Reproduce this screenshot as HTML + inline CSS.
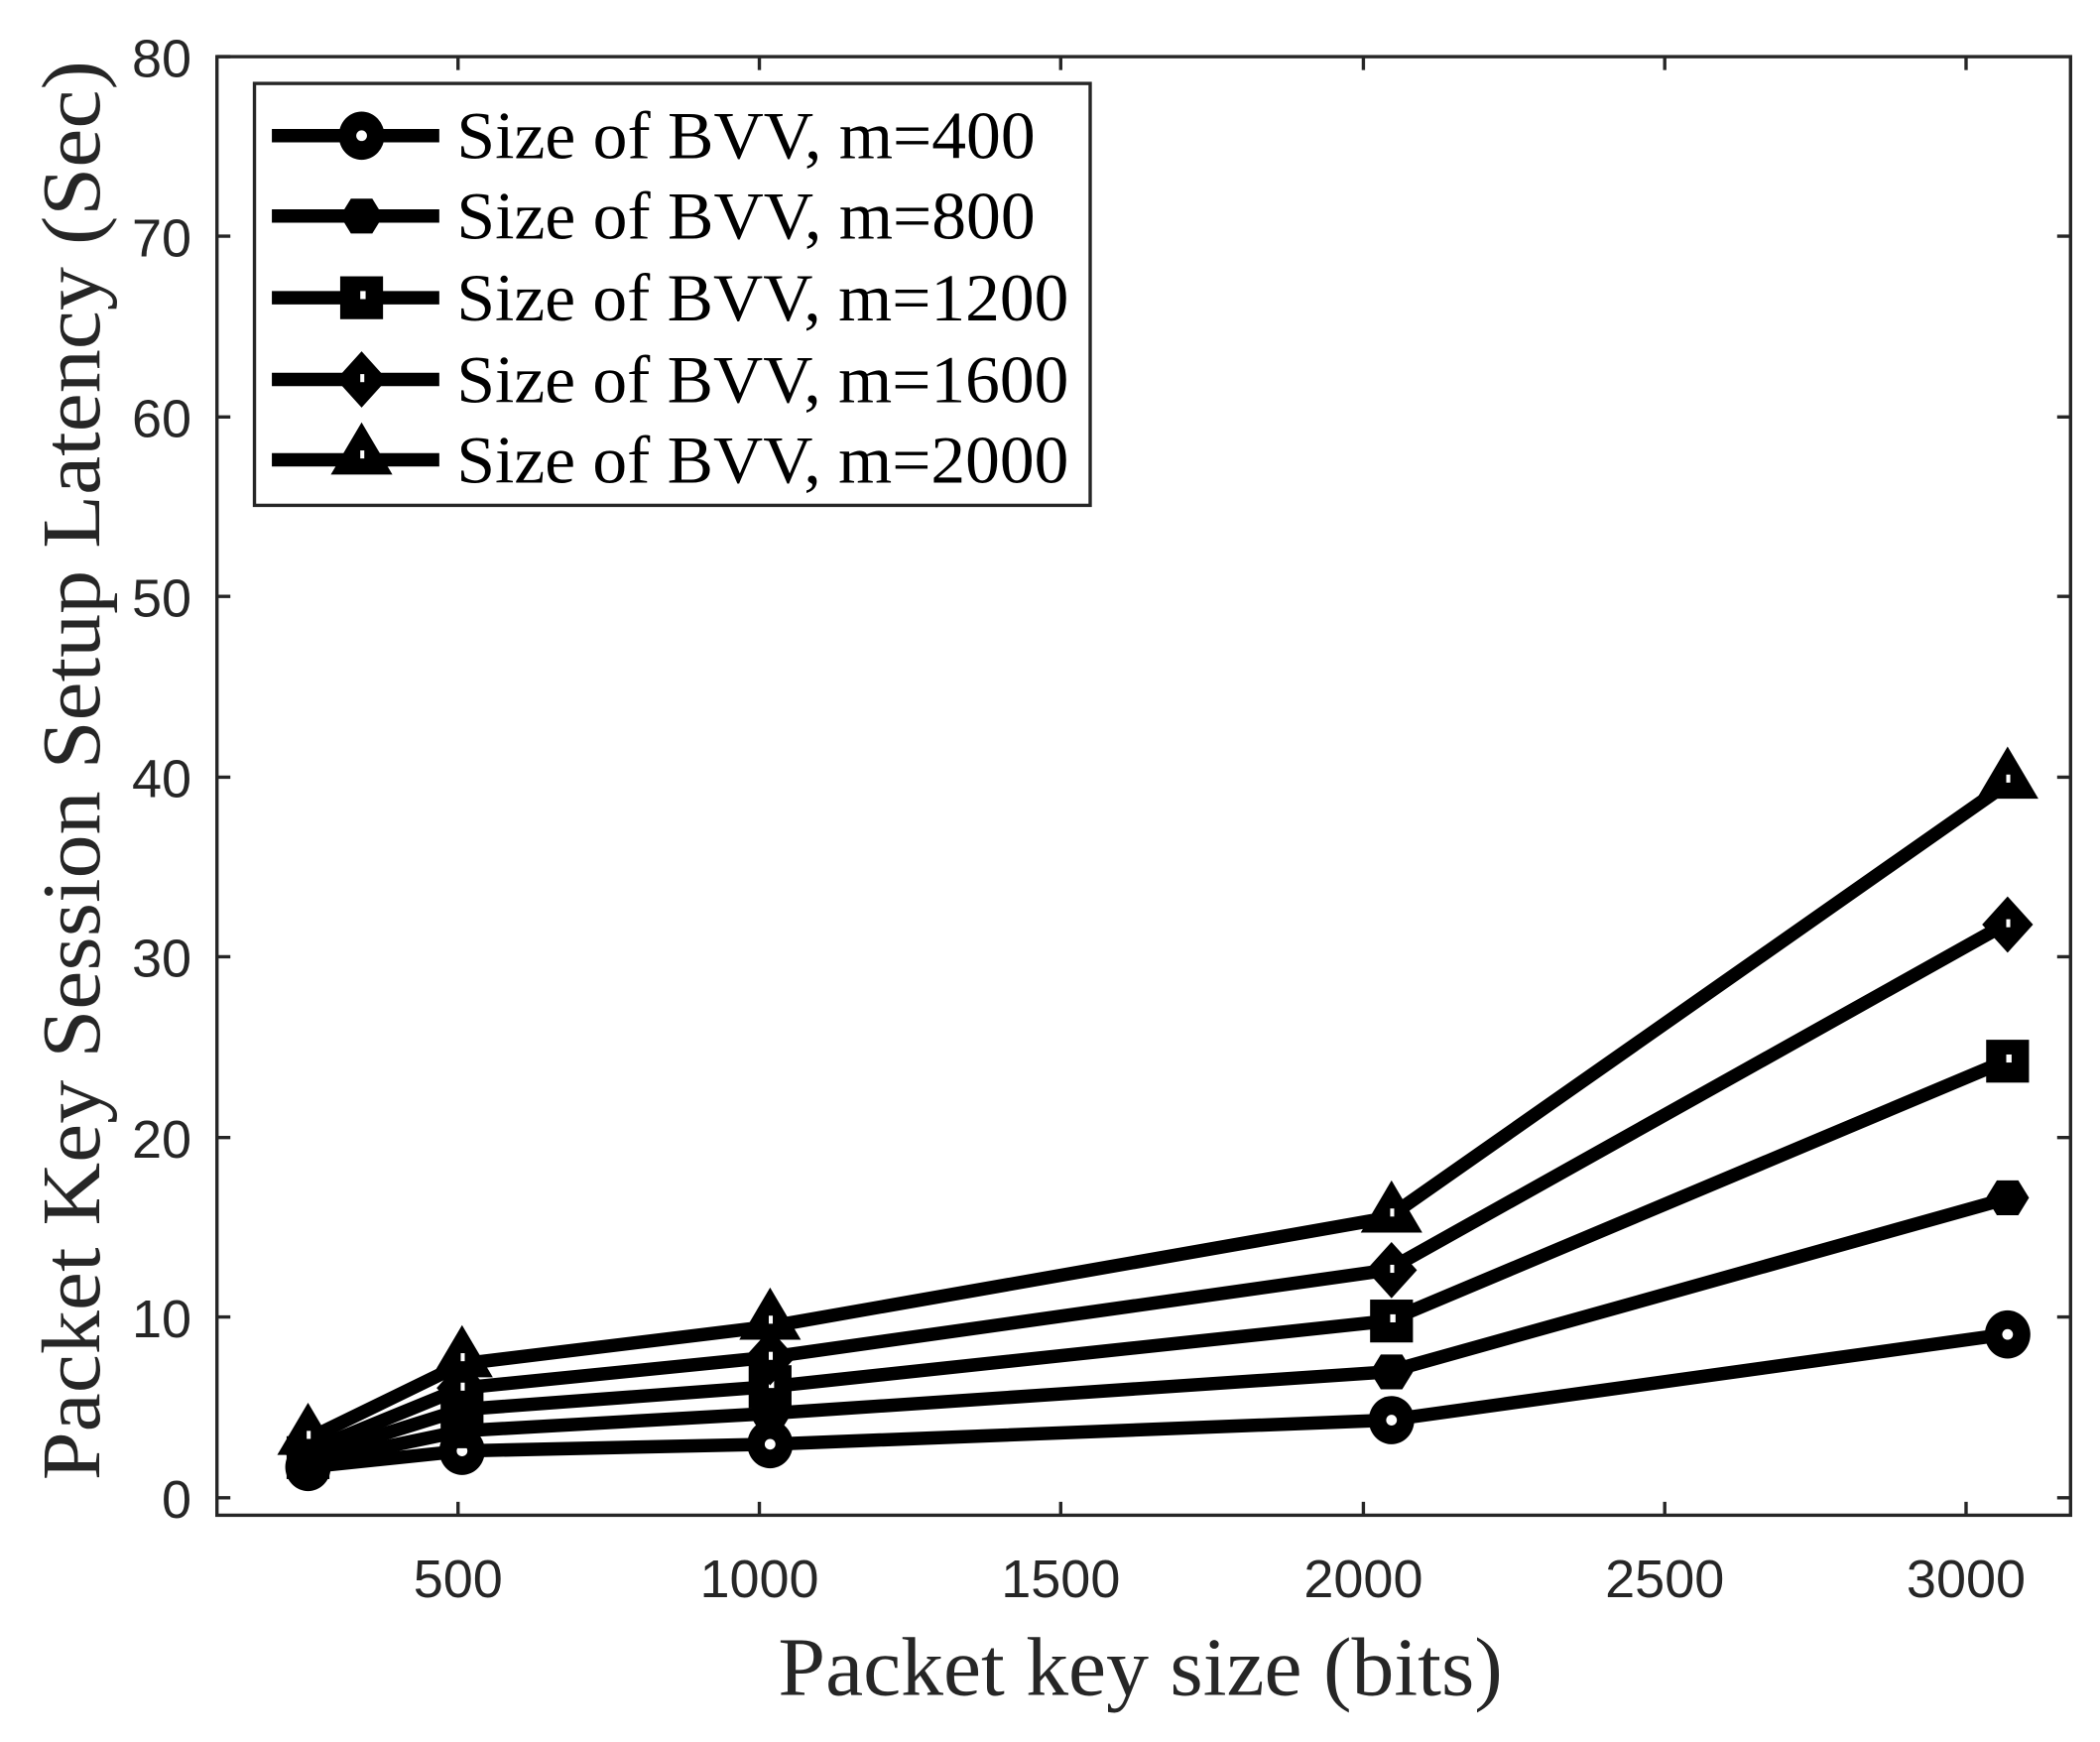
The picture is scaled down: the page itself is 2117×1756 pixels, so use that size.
<!DOCTYPE html>
<html><head><meta charset="utf-8"><style>
html,body{margin:0;padding:0;background:#fff;}
svg{display:block;}
</style></head><body>
<svg width="2117" height="1756" viewBox="0 0 1568 1300" xmlns="http://www.w3.org/2000/svg">
<rect width="1568" height="1300" fill="#fff"/>
<defs>
<g id="mc"><ellipse cx="0" cy="0" rx="17" ry="18" fill="#000"/><circle r="4" fill="#fff"/></g>
<g id="mh"><polygon points="-16,0 -8,-13 8,-13 16,0 8,13 -8,13" fill="#000"/></g>
<g id="ms"><rect x="-16" y="-16" width="32" height="32" fill="#000"/><rect x="-1" y="-5" width="4" height="6" fill="#fff"/></g>
<g id="md"><polygon points="0,-21 19,0 0,21 -19,0" fill="#000"/><rect x="-1" y="-4" width="3" height="6" fill="#fff"/></g>
<g id="mt"><polygon points="0,-25 23,14 -23,14" fill="#000"/><rect x="-1" y="-4" width="3" height="6" fill="#fff"/></g>
</defs>
<g stroke="#000" stroke-width="10" fill="none" stroke-linejoin="round">
<polyline points="230,1095 345,1083 575,1078 1036,1060 1497,996"/>
<polyline points="230,1092 345,1068 575,1055 1036,1024 1497,895"/>
<polyline points="230,1088 345,1052 575,1035 1036,986 1497,792"/>
<polyline points="230,1083 345,1036 575,1013 1036,948 1497,690"/>
<polyline points="230,1074 345,1018 575,990 1036,909 1497,586"/>
</g>
<g>
<use href="#mc" x="230" y="1095"/><use href="#mc" x="345" y="1083"/><use href="#mc" x="575" y="1078"/><use href="#mc" x="1039" y="1060"/><use href="#mc" x="1499" y="996"/>
<use href="#mh" x="230" y="1092"/><use href="#mh" x="345" y="1068"/><use href="#mh" x="575" y="1055"/><use href="#mh" x="1039" y="1024"/><use href="#mh" x="1499" y="894"/>
<use href="#ms" x="230" y="1088"/><use href="#ms" x="345" y="1052"/><use href="#ms" x="575" y="1035"/><use href="#ms" x="1039" y="986"/><use href="#ms" x="1499" y="792"/>
<use href="#md" x="230" y="1083"/><use href="#md" x="345" y="1036"/><use href="#md" x="575" y="1013"/><use href="#md" x="1039" y="948"/><use href="#md" x="1499" y="690"/>
<use href="#mt" x="230" y="1072"/><use href="#mt" x="345" y="1014"/><use href="#mt" x="575" y="986"/><use href="#mt" x="1039" y="906"/><use href="#mt" x="1499" y="582"/>
</g>
<g stroke="#262626" stroke-width="2.5" fill="none">
<rect x="162" y="42" width="1384" height="1089"/>
<path d="M342,42v10M567,42v10M792,42v10M1018,42v10M1243,42v10M1468,42v10M342,1131v-10M567,1131v-10M792,1131v-10M1018,1131v-10M1243,1131v-10M1468,1131v-10"/>
<path d="M162,1118h10M162,983h10M162,849h10M162,714h10M162,580h10M162,445h10M162,311h10M162,176h10M162,42h10M1546,1118h-10M1546,983h-10M1546,849h-10M1546,714h-10M1546,580h-10M1546,445h-10M1546,311h-10M1546,176h-10"/>
</g>
<g font-family="Liberation Sans, sans-serif" font-size="40" fill="#262626" text-anchor="end">
<text x="143" y="1133">0</text><text x="143" y="998">10</text><text x="143" y="864">20</text><text x="143" y="729">30</text><text x="143" y="595">40</text><text x="143" y="460">50</text><text x="143" y="326">60</text><text x="143" y="191">70</text><text x="143" y="57">80</text>
</g>
<g font-family="Liberation Sans, sans-serif" font-size="40" fill="#262626" text-anchor="middle">
<text x="342" y="1192">500</text><text x="567" y="1192">1000</text><text x="792" y="1192">1500</text><text x="1018" y="1192">2000</text><text x="1243" y="1192">2500</text><text x="1468" y="1192">3000</text>
</g>
<text x="581" y="1265" textLength="541" lengthAdjust="spacingAndGlyphs" font-family="Liberation Serif, serif" font-size="62" fill="#262626">Packet key size (bits)</text>
<text transform="translate(74,1105) rotate(-90)" x="0" y="0" textLength="1060" lengthAdjust="spacingAndGlyphs" font-family="Liberation Serif, serif" font-size="62" fill="#262626">Packet Key Session Setup Latency (Sec)</text>
<rect x="190" y="62" width="624" height="315" fill="#fff" stroke="#262626" stroke-width="2.5"/>
<g stroke="#000" stroke-width="10">
<path d="M203,101H328M203,161H328M203,222H328M203,283H328M203,343H328"/>
</g>
<use href="#mc" x="270" y="101"/><use href="#mh" x="270" y="161"/><use href="#ms" x="270" y="222"/><use href="#md" x="270" y="283"/><use href="#mt" x="270" y="340"/>
<g font-family="Liberation Serif, serif" font-size="50" fill="#000" lengthAdjust="spacingAndGlyphs">
<text x="341" y="118" textLength="432" lengthAdjust="spacingAndGlyphs">Size of BVV, m=400</text>
<text x="341" y="178" textLength="432" lengthAdjust="spacingAndGlyphs">Size of BVV, m=800</text>
<text x="341" y="239" textLength="457" lengthAdjust="spacingAndGlyphs">Size of BVV, m=1200</text>
<text x="341" y="300" textLength="457" lengthAdjust="spacingAndGlyphs">Size of BVV, m=1600</text>
<text x="341" y="360" textLength="457" lengthAdjust="spacingAndGlyphs">Size of BVV, m=2000</text>
</g>
</svg>
</body></html>
